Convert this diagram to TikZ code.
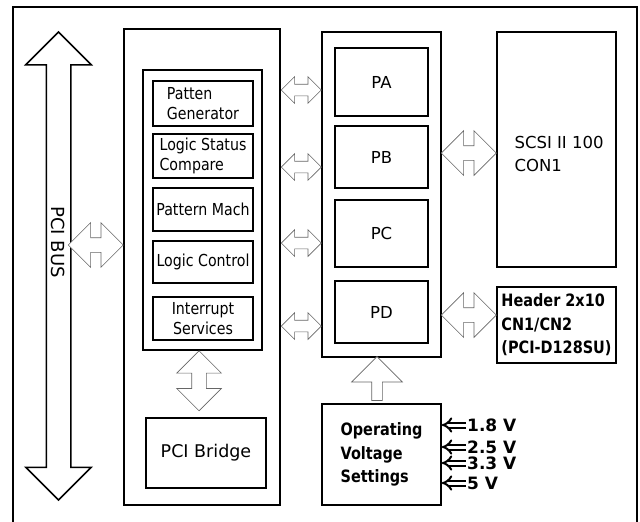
\documentclass[tikz,border=0pt]{standalone}
\usepackage{fontspec}
\setmainfont{DejaVu Sans}
\newfontfamily\narrowfont[FakeStretch=0.86]{DejaVu Sans}
\newfontfamily\hdrfont[FakeStretch=0.85]{DejaVu Sans}
\usetikzlibrary{shapes.arrows, arrows.meta, calc}

\begin{document}
\begin{tikzpicture}[x=1pt, y=-1pt,
    box/.style args={#1/#2}{draw, line width=1.5pt, minimum width=#1pt, minimum height=#2pt, inner sep=1pt},
    subtxt/.style={font=\narrowfont\fontsize{16.5}{20}\selectfont, align=left},
    porttxt/.style={font=\fontsize{16.5}{20}\selectfont},
    boldtxt/.style={font=\hdrfont\bfseries\fontsize{17}{23.5}\selectfont, align=left},
    vtxt/.style={font=\bfseries\fontsize{17}{20}\selectfont, inner sep=1pt, anchor=west},
    link/.style={shape=double arrow, draw=black!60, line width=0.7pt, fill=white,
        double arrow tip angle=90, inner xsep=0pt, minimum width=0pt},
    smalllink/.style={link, inner ysep=5.5pt, double arrow head extend=7.5pt, minimum height=40pt},
    biglink/.style={link, inner ysep=7pt, double arrow head extend=15pt, minimum height=55pt},
    uplink/.style={shape=single arrow, draw=black!60, line width=0.7pt, fill=white,
        single arrow tip angle=90, inner xsep=0pt, minimum width=0pt, inner ysep=5pt,
        single arrow head extend=20pt, minimum height=44pt, rotate=90},
    vlt/.style={double, double distance=3pt, line width=2pt, -{Implies}}
  ]
  \useasboundingbox (0,0) rectangle (640,522);

  % outer frame
  \draw[line width=1.5pt] (13,522) -- (13,7) -- (637,7) -- (637,522);

  % PCI bus
  \node[link, draw=black, line width=1.5pt, inner ysep=11.5pt, double arrow head extend=20.5pt,
        minimum height=468pt, rotate=90] (pcibus) at (58.5,266) {};
  \node[rotate=-90, font=\fontsize{18}{20}\selectfont] (buslbl) at (58.5,242) {PCI BUS};

  % FPGA side
  \node[box=156/476] (fpga) at (202,267) {};
  \node[box=119/280] (core) at (202.5,210) {};
  \node[box=100/45, subtxt] (gen) at (203,103.5) {Patten\\Generator};
  \node[box=100/44, subtxt] (cmp) at (203,156) {Logic Status\\Compare};
  \node[box=100/43, subtxt] (mach) at (203,209.5) {Pattern Mach};
  \node[box=100/42, subtxt] (ctrl) at (203,262) {Logic Control};
  \node[box=100/43, subtxt, align=center] (irq) at (203,318.5) {Interrupt\\Services};
  \node[box=120/70, font=\fontsize{17.5}{20}\selectfont] (bridge) at (206,453) {PCI Bridge};

  % ports
  \node[box=119/325] (ports) at (381.5,194.5) {};
  \node[box=93/68, porttxt] (pa) at (381.5,82) {PA};
  \node[box=93/62, porttxt] (pb) at (381.5,157) {PB};
  \node[box=93/67, porttxt] (pc) at (381.5,233.5) {PC};
  \node[box=93/62, porttxt] (pd) at (381.5,312) {PD};

  % connectors and voltage box
  \node[box=119/235] (scsi) at (556.5,149.5) {};
  \node[porttxt, align=left, anchor=west, font=\fontsize{16.5}{23.5}\selectfont] (scsilbl) at (511,154) {SCSI II 100\\CON1};
  \node[box=119/76, boldtxt] (header) at (556.5,325) {Header 2x10\\CN1/CN2\\(PCI-D128SU)};
  \node[box=119/101, boldtxt] (volt) at (381.5,454.5) {Operating\\Voltage\\Settings};

  % block arrows
  \node[biglink] (bus2fpga) at ($(fpga.west |- 0,245)+(-27.5,0)$) {};
  \node[smalllink] (fpga2pa) at ($(ports.west |- 0,90)+(-20,0)$) {};
  \node[smalllink] (fpga2pb) at ($(ports.west |- 0,167)+(-20,0)$) {};
  \node[smalllink] (fpga2pc) at ($(ports.west |- 0,243)+(-20,0)$) {};
  \node[smalllink] (fpga2pd) at ($(ports.west |- 0,326)+(-20,0)$) {};
  \node[biglink] (pb2scsi) at ($(scsi.west |- 0,153)+(-27.5,0)$) {};
  \node[biglink] (pd2header) at ($(header.west |- 0,315)+(-27.5,0)$) {};
  \node[biglink, minimum height=60pt, rotate=90] (core2bridge) at ($(core.south)+(-3.5,30)$) {};
  \node[uplink] (volt2ports) at ($(volt.north)+(-4.5,-22)$) {};

  % voltages
  \node[vtxt] (v18) at (466,425) {1.8 V};
  \node[vtxt] (v25) at (466,447) {2.5 V};
  \node[vtxt] (v33) at (466,463) {3.3 V};
  \node[vtxt] (v50) at (466,483) {5 V};
  \foreach \v in {v18,v25,v33,v50}
    \draw[vlt] (\v.west) -- (\v.west -| volt.east);
\end{tikzpicture}
\end{document}
